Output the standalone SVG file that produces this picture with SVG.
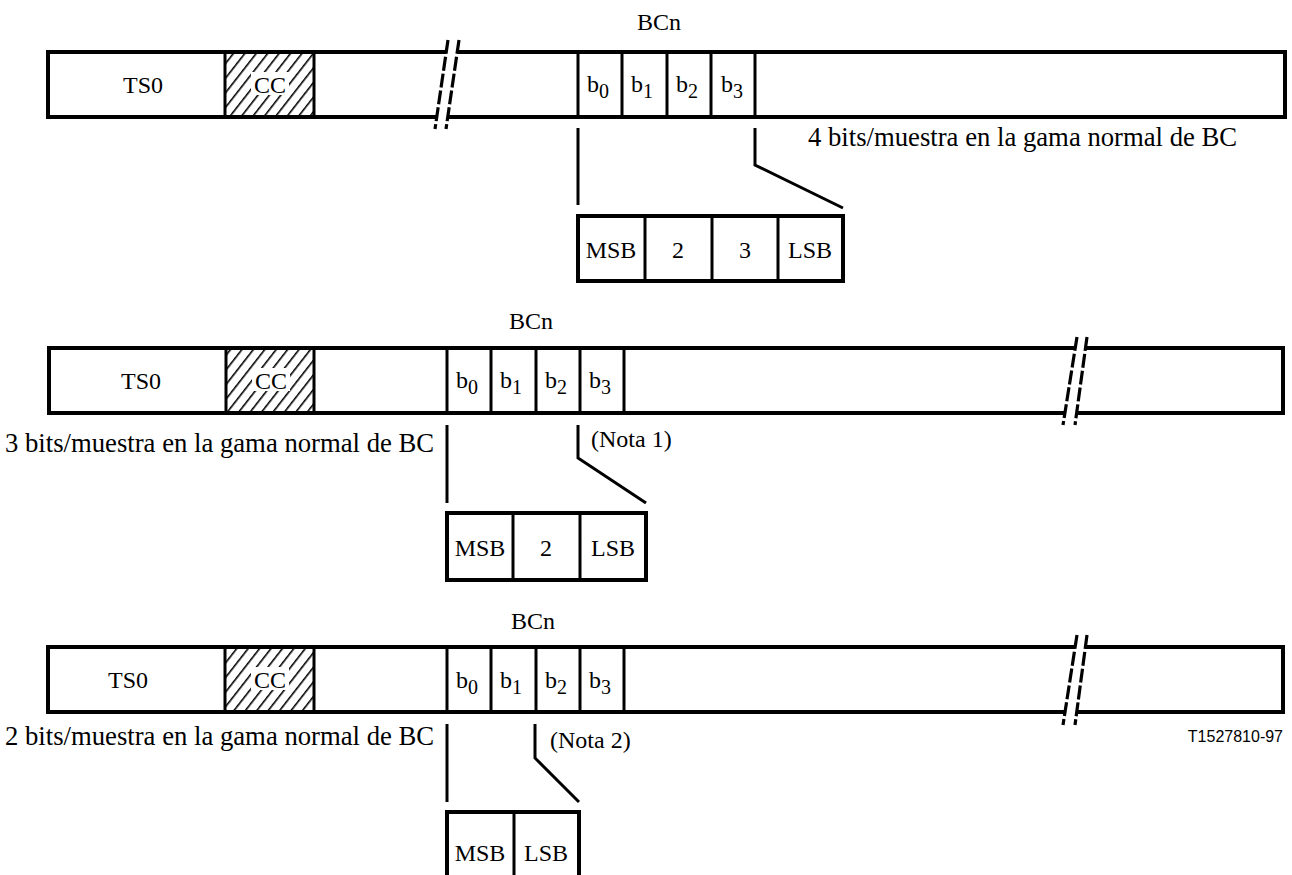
<svg xmlns="http://www.w3.org/2000/svg" width="1292" height="875" viewBox="0 0 1292 875">
<defs>
<pattern id="hatch" patternUnits="userSpaceOnUse" width="9" height="9" patternTransform="rotate(38)">
<line x1="0" y1="0" x2="0" y2="9" stroke="#000" stroke-width="3.2"/>
</pattern>
</defs>
<style>
.frame{fill:none;stroke:#000;stroke-width:4}
.div{stroke:#000;stroke-width:3;fill:none}
.con{stroke:#000;stroke-width:3;fill:none}
.t{font-family:"Liberation Serif","Times New Roman",serif;font-size:24px;fill:#000}
.tb{font-family:"Liberation Serif","Times New Roman",serif;font-size:26.7px;fill:#000}
.m{text-anchor:middle}
.sub{font-size:20px}
.brk{stroke:#000;stroke-width:3.2;stroke-dasharray:14 3;fill:none}
.code{font-family:"Liberation Sans",Arial,sans-serif;font-size:16px;fill:#000}
.halo{fill:#fff}
</style>

<!-- Frame 1 -->
<g id="frame1">
<rect x="48" y="52" width="1237" height="65" class="frame"/>
<rect x="225" y="52" width="89" height="65" fill="url(#hatch)" stroke="#000" stroke-width="3"/>
<rect x="251" y="72" width="38" height="23" class="halo"/>
<line x1="578" y1="52" x2="578" y2="117" class="div"/>
<line x1="622" y1="52" x2="622" y2="117" class="div"/>
<line x1="667" y1="52" x2="667" y2="117" class="div"/>
<line x1="711" y1="52" x2="711" y2="117" class="div"/>
<line x1="755" y1="52" x2="755" y2="117" class="div"/>
<polygon points="448,40 459,40 446,129 435,129" fill="#fff"/>
<line x1="448" y1="40" x2="435" y2="129" class="brk"/>
<line x1="459" y1="40" x2="446" y2="129" class="brk"/>
<text x="143" y="93" class="t m">TS0</text>
<text x="270" y="93" class="t m">CC</text>
<text x="587" y="92" class="t">b<tspan class="sub" dy="6">0</tspan></text>
<text x="631" y="92" class="t">b<tspan class="sub" dy="6">1</tspan></text>
<text x="676" y="92" class="t">b<tspan class="sub" dy="6">2</tspan></text>
<text x="721" y="92" class="t">b<tspan class="sub" dy="6">3</tspan></text>
<text x="659" y="30" class="t m">BCn</text>
<text x="808" y="146" class="tb">4 bits/muestra en la gama normal de BC</text>
</g>

<g id="box1">
<rect x="578" y="216" width="265" height="65" class="frame"/>
<line x1="645" y1="216" x2="645" y2="281" class="div"/>
<line x1="712" y1="216" x2="712" y2="281" class="div"/>
<line x1="778" y1="216" x2="778" y2="281" class="div"/>
<text x="611" y="258" class="t m">MSB</text>
<text x="678" y="258" class="t m">2</text>
<text x="745" y="258" class="t m">3</text>
<text x="810" y="258" class="t m">LSB</text>
</g>

<!-- Frame 2 -->
<g id="frame2">
<rect x="49" y="348" width="1234" height="65" class="frame"/>
<rect x="226" y="348" width="88" height="65" fill="url(#hatch)" stroke="#000" stroke-width="3"/>
<rect x="252" y="368" width="38" height="23" class="halo"/>
<line x1="447" y1="348" x2="447" y2="413" class="div"/>
<line x1="491" y1="348" x2="491" y2="413" class="div"/>
<line x1="536" y1="348" x2="536" y2="413" class="div"/>
<line x1="580" y1="348" x2="580" y2="413" class="div"/>
<line x1="624" y1="348" x2="624" y2="413" class="div"/>
<polygon points="1077,337 1087,337 1075,425 1063,425" fill="#fff"/>
<line x1="1077" y1="337" x2="1063" y2="425" class="brk"/>
<line x1="1087" y1="337" x2="1075" y2="425" class="brk"/>
<text x="141" y="389" class="t m">TS0</text>
<text x="271" y="389" class="t m">CC</text>
<text x="456" y="388" class="t">b<tspan class="sub" dy="6">0</tspan></text>
<text x="500" y="388" class="t">b<tspan class="sub" dy="6">1</tspan></text>
<text x="545" y="388" class="t">b<tspan class="sub" dy="6">2</tspan></text>
<text x="589" y="388" class="t">b<tspan class="sub" dy="6">3</tspan></text>
<text x="531" y="329" class="t m">BCn</text>
<text x="591" y="447" class="t">(Nota 1)</text>
<text x="5" y="452" class="tb">3 bits/muestra en la gama normal de BC</text>
</g>

<g id="box2">
<rect x="447" y="513" width="199" height="67" class="frame"/>
<line x1="513" y1="513" x2="513" y2="580" class="div"/>
<line x1="580" y1="513" x2="580" y2="580" class="div"/>
<text x="480" y="556" class="t m">MSB</text>
<text x="546" y="556" class="t m">2</text>
<text x="613" y="556" class="t m">LSB</text>
</g>

<!-- Frame 3 -->
<g id="frame3">
<rect x="48" y="647" width="1235" height="65" class="frame"/>
<rect x="225" y="647" width="89" height="65" fill="url(#hatch)" stroke="#000" stroke-width="3"/>
<rect x="251" y="667" width="38" height="23" class="halo"/>
<line x1="447" y1="647" x2="447" y2="712" class="div"/>
<line x1="491" y1="647" x2="491" y2="712" class="div"/>
<line x1="536" y1="647" x2="536" y2="712" class="div"/>
<line x1="580" y1="647" x2="580" y2="712" class="div"/>
<line x1="624" y1="647" x2="624" y2="712" class="div"/>
<polygon points="1077,635 1087,635 1075,725 1063,725" fill="#fff"/>
<line x1="1077" y1="635" x2="1063" y2="725" class="brk"/>
<line x1="1087" y1="635" x2="1075" y2="725" class="brk"/>
<text x="128" y="688" class="t m">TS0</text>
<text x="270" y="688" class="t m">CC</text>
<text x="456" y="688" class="t">b<tspan class="sub" dy="6">0</tspan></text>
<text x="500" y="688" class="t">b<tspan class="sub" dy="6">1</tspan></text>
<text x="545" y="688" class="t">b<tspan class="sub" dy="6">2</tspan></text>
<text x="589" y="688" class="t">b<tspan class="sub" dy="6">3</tspan></text>
<text x="533" y="629" class="t m">BCn</text>
<text x="550" y="748" class="t">(Nota 2)</text>
<text x="5" y="745" class="tb">2 bits/muestra en la gama normal de BC</text>
<text x="1283" y="742" class="code" text-anchor="end">T1527810-97</text>
</g>

<g id="box3">
<rect x="447" y="812" width="132" height="68" class="frame"/>
<line x1="514" y1="812" x2="514" y2="880" class="div"/>
<text x="480" y="861" class="t m">MSB</text>
<text x="546" y="861" class="t m">LSB</text>
</g>

<g id="connectors">
<polyline points="578,128 578,205" class="con"/>
<polyline points="755,128 755,165 843,208" class="con"/>
<polyline points="447,425 447,503" class="con"/>
<polyline points="578,425 578,458 646,503" class="con"/>
<polyline points="447,724 447,802" class="con"/>
<polyline points="535,724 535,758 579,802" class="con"/>
</g>
</svg>
